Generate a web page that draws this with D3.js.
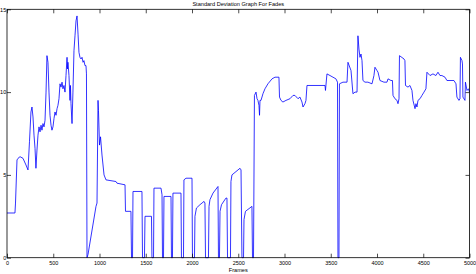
<!DOCTYPE html>
<html lang="en">

<head>
    <meta charset="UTF-8">
    <title>Standard Deviation Graph For Fades</title>
    <style>
        body { margin: 0; background: #fff; }
        svg { display: block; }
        text { font-family: 'Liberation Sans', Arial, sans-serif; }
    </style>
</head>

<body>
</body>
<script src="https://cdn.jsdelivr.net/npm/d3@7/dist/d3.min.js" charset="utf-8"></script>
<script>
var title = 'Standard Deviation Graph For Fades';
var xLabel = 'Frames';
var xTicks = [0, 500, 1000, 1500, 2000, 2500, 3000, 3500, 4000, 4500, 5000];
var yTicks = [0, 5, 10, 15];

// frame numbers and std deviation
var frames = [0, 86, 92, 108, 119, 141, 173, 205, 227, 243, 259, 270, 281, 292, 303, 313, 324, 335, 346, 357,
    368, 378, 389, 400, 411, 422, 432, 443, 454, 465, 476, 486, 497, 508, 519, 530, 541, 551, 562, 573,
    584, 595, 605, 616, 627, 638, 649, 654, 659, 670, 681, 686, 692, 703, 713, 724, 735, 746, 757, 768,
    778, 789, 800, 811, 822, 832, 843, 854, 859, 865,
    876, 962, 973, 984, 989, 1000, 1011, 1027, 1049, 1070, 1178, 1189, 1276, 1281, 1340, 1346, 1357, 1362,
    1459, 1465, 1486, 1492, 1562, 1567, 1584, 1589, 1665, 1676, 1681, 1692, 1697, 1773, 1778, 1789, 1794,
    1881, 1886, 1908, 1913, 1935, 2000, 2005, 2027, 2032, 2048, 2086, 2130, 2140, 2146, 2178, 2184, 2194,
    2227, 2281, 2286, 2297, 2303, 2319, 2367, 2378, 2384, 2416, 2421, 2432, 2519, 2530, 2540, 2557, 2562,
    2578, 2648, 2654, 2665, 2675, 2692, 2703, 2713, 2724, 2730, 2735, 2746, 2767, 2789, 2821, 2865, 2897,
    2940, 2946, 2962, 2983, 3016, 3059, 3092, 3113, 3146, 3167, 3189, 3200, 3221, 3232, 3243,
    3438, 3443, 3459, 3492, 3524, 3556, 3573, 3578, 3589, 3594, 3632, 3676, 3686, 3719, 3740, 3762, 3784,
    3794, 3805, 3816, 3827, 3838, 3848, 3870, 3902, 3946, 3967, 3978, 4000, 4011, 4032, 4075, 4108, 4119,
    4151, 4167, 4173, 4194, 4216, 4227, 4238, 4243, 4292, 4302, 4308, 4335, 4356, 4378, 4389, 4411, 4421,
    4432, 4443, 4465, 4486, 4508, 4529, 4540, 4573, 4605, 4637, 4659, 4681, 4702, 4735, 4756, 4800, 4832,
    4854, 4864, 4886, 4897, 4902, 4919, 4924, 4929, 4951, 4956, 4973, 4989, 5000];

var stdDev = [2.7, 2.7, 3.3, 5.9, 6.0, 6.1, 6.0, 5.6, 5.3, 7.0, 8.8, 9.1, 8.5, 7.4, 6.6, 5.4, 6.5, 7.4, 7.9, 7.6,
    8.0, 7.7, 8.1, 7.9, 8.3, 10.0, 12.2, 11.8, 10.0, 8.6, 8.0, 7.7, 7.9, 8.4, 8.8, 8.6, 9.0, 9.2, 9.6, 10.5,
    10.3, 10.6, 10.2, 10.4, 10.0, 11.0, 12.1, 11.4, 11.8, 11.0, 9.5, 10.4, 9.3, 8.1, 10.0, 12.5, 13.4, 14.3, 14.6, 13.5,
    12.4, 12.1, 12.0, 12.1, 11.8, 11.9, 11.6, 11.6, 11.1, 0,
    0.2, 3.1, 3.3, 9.5, 8.9, 6.8, 7.3, 6.2, 5.0, 4.7, 4.6, 4.5, 4.4, 2.8, 2.8, 0, 0, 4.0,
    4.0, 0, 0, 2.5, 2.5, 0, 0, 4.2, 4.2, 3.8, 0, 0, 3.7, 3.7, 0, 0, 3.9,
    3.9, 0, 0, 4.7, 4.8, 4.8, 0, 0, 2.5, 3.0, 3.2, 3.4, 3.3, 0, 0, 3.1, 3.5,
    3.9, 4.3, 0, 0, 2.8, 3.2, 3.6, 3.6, 0, 0, 4.6, 5.0, 5.4, 5.3, 0, 0, 2.3,
    2.8, 3.1, 0, 0, 9.8, 10.0, 9.6, 9.5, 9.2, 8.6, 9.5, 9.5, 9.9, 10.2, 10.5, 10.8, 10.9,
    10.9, 9.7, 9.5, 9.4, 9.5, 9.6, 9.8, 9.8, 9.6, 9.7, 9.4, 9.1, 9.3, 9.5, 10.4,
    10.4, 10.1, 11.1, 11.0, 10.9, 10.8, 10.6, 0, 0, 10.5, 10.6, 10.6, 11.8, 11.3, 9.9, 10.0, 10.0,
    13.4, 12.6, 12.1, 12.3, 11.9, 10.7, 10.6, 10.6, 10.5, 11.0, 11.5, 11.3, 11.2, 10.7, 10.6, 10.6, 10.8,
    10.7, 10.7, 9.8, 9.6, 9.5, 9.3, 9.6, 12.2, 12.0, 11.9, 10.4, 10.3, 10.4, 10.1, 9.5, 9.0, 9.3,
    9.1, 9.5, 9.6, 9.8, 10.0, 10.2, 11.2, 11.0, 11.1, 11.0, 11.2, 11.0, 11.0, 10.9, 10.7, 10.7, 10.7,
    10.5, 9.7, 9.5, 9.6, 12.1, 11.9, 11.7, 9.7, 9.5, 10.6, 10.1, 10.2, 10.0];

var data = frames.map(function(f, i) {
    return { frame: f, value: stdDev[i] };
});

var width = 476,
    height = 274;
// plot box edges (names avoid window.top)
var boxLeft = 7,
    boxRight = 469.5,
    boxTop = 9.3,
    boxBottom = 257.7;

var svg = d3.select('body')
    .append('svg')
    .attr('width', width)
    .attr('height', height);

var x = d3.scaleLinear().domain([0, 5000]).range([boxLeft, boxRight]);
var y = d3.scaleLinear().domain([0, 15]).range([boxBottom, boxTop]);

var line = d3.line()
    .x(function(d) { return x(d.frame); })
    .y(function(d) { return y(d.value); });

svg.append('path')
    .datum(data)
    .attr('d', line)
    .attr('fill', 'none')
    .attr('stroke', '#0000ff')
    .attr('stroke-width', 0.8)
    .attr('stroke-linejoin', 'miter');

// axes, ticks pointing inwards like matlab
var tickFont = 5.5;
var fmt = d3.format('d');

svg.append('g')
    .attr('transform', 'translate(0,' + boxBottom + ')')
    .call(d3.axisBottom(x).tickValues(xTicks).tickFormat(fmt).tickSizeInner(-4).tickSizeOuter(0).tickPadding(3.5));

svg.append('g')
    .attr('transform', 'translate(0,' + boxTop + ')')
    .call(d3.axisTop(x).tickValues(xTicks).tickSizeInner(-4).tickSizeOuter(0).tickFormat(''));

svg.append('g')
    .attr('transform', 'translate(' + boxLeft + ',0)')
    .call(d3.axisLeft(y).tickValues(yTicks).tickFormat(fmt).tickSizeInner(-4).tickSizeOuter(0).tickPadding(0.8));

svg.append('g')
    .attr('transform', 'translate(' + boxRight + ',0)')
    .call(d3.axisRight(y).tickValues(yTicks).tickSizeInner(-4).tickSizeOuter(0).tickFormat(''));

svg.selectAll('.domain').remove();
svg.selectAll('.tick line').attr('stroke', '#000').attr('stroke-width', 0.7);
svg.selectAll('.tick text')
    .attr('font-size', tickFont)
    .attr('font-family', "'Liberation Sans', Arial, sans-serif")
    .attr('fill', '#000');

svg.append('rect')
    .attr('x', boxLeft)
    .attr('y', boxTop)
    .attr('width', boxRight - boxLeft)
    .attr('height', boxBottom - boxTop)
    .attr('fill', 'none')
    .attr('stroke', '#000')
    .attr('stroke-width', 0.8);

svg.append('text')
    .attr('x', (boxLeft + boxRight) / 2)
    .attr('y', 5.5)
    .attr('text-anchor', 'middle')
    .attr('font-size', 5.6)
    .attr('fill', '#000')
    .text(title);

svg.append('text')
    .attr('x', (boxLeft + boxRight) / 2)
    .attr('y', 272)
    .attr('text-anchor', 'middle')
    .attr('font-size', 5.6)
    .attr('fill', '#000')
    .text(xLabel);
</script>

</html>
